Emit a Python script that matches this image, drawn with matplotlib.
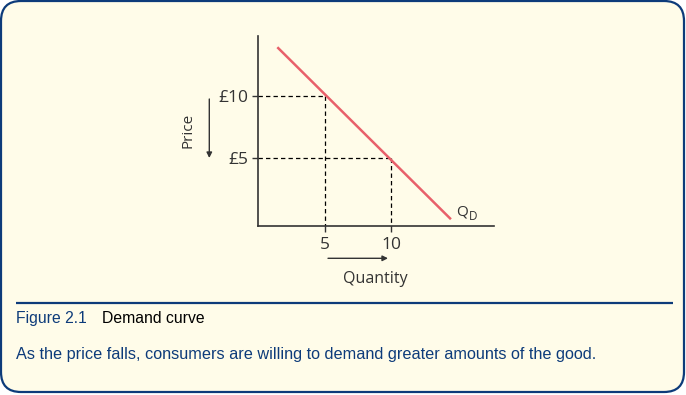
import matplotlib
matplotlib.use("Agg")
import matplotlib.pyplot as plt
from matplotlib.patches import FancyBboxPatch

# ---- data ----
demand_q = [1.45, 14.47]
demand_p = [13.87, 0.13]
price_ticks = [10, 5]
price_labels = ["£10", "£5"]
qty_ticks = [5, 10]
qty_labels = ["5", "10"]
points_q = [5, 10]
points_p = [10, 5]

W, H = 686, 395
DPI = 100
fig = plt.figure(figsize=(W / DPI, H / DPI), dpi=DPI, facecolor="white")

NAVY = "#0d3b7a"
CREAM = "#fffce9"
DARK = "#333333"
CHART_FONT = ["Open Sans", "DejaVu Sans"]
CAP_FONT = ["Liberation Sans", "DejaVu Sans"]

# background layer in pixel coords (top-left origin)
bg = fig.add_axes([0, 0, 1, 1])
bg.set_xlim(0, W)
bg.set_ylim(H, 0)
bg.axis("off")

box = FancyBboxPatch((21, 21), W - 43, H - 44,
                     boxstyle="round,pad=20,rounding_size=20",
                     facecolor=CREAM, edgecolor=NAVY, linewidth=1.6)
bg.add_patch(box)

# separator
bg.plot([16, 673], [302.5, 302.5], color=NAVY, lw=1.6, solid_capstyle="butt")

# caption
bg.text(16, 323, "Figure 2.1", color=NAVY, fontsize=11.3, family=CAP_FONT, va="baseline", ha="left")
bg.text(102, 323, "Demand curve", color="black", fontsize=11.3, family=CAP_FONT, va="baseline", ha="left")
bg.text(16, 359, "As the price falls, consumers are willing to demand greater amounts of the good.",
        color=NAVY, fontsize=11.7, family=CAP_FONT, va="baseline", ha="left")

# axis annotations (pixel coords)
bg.annotate("", xy=(209.3, 158), xytext=(209.3, 99),
            arrowprops=dict(arrowstyle="-|>", color=DARK, lw=1.0, mutation_scale=8, shrinkA=0, shrinkB=0))
bg.text(188, 130.5, "Price", rotation=90, color=DARK, fontsize=11, family=CHART_FONT, ha="center", va="center")
bg.annotate("", xy=(388, 258.3), xytext=(328, 258.3),
            arrowprops=dict(arrowstyle="-|>", color=DARK, lw=1.0, mutation_scale=8, shrinkA=0, shrinkB=0))
bg.text(375.5, 279, "Quantity", color=DARK, fontsize=11.5, family=CHART_FONT, ha="center", va="center")

# chart axes
left, right, top, bottom = 258, 494, 35.7, 226
ax = fig.add_axes([left / W, (H - bottom) / H, (right - left) / W, (bottom - top) / H])
ax.set_facecolor("none")
ax.set_xlim(0, 17.7)
ax.set_ylim(-0.41, 14.79)
for s in ["top", "right"]:
    ax.spines[s].set_visible(False)
for s in ["left", "bottom"]:
    ax.spines[s].set_color(DARK)
    ax.spines[s].set_linewidth(1.2)

ax.set_xticks(qty_ticks)
ax.set_xticklabels(qty_labels)
ax.set_yticks(price_ticks)
ax.set_yticklabels(price_labels)
ax.tick_params(axis="both", direction="out", length=4, width=1.0, color=DARK,
               labelcolor=DARK, labelsize=12.5)
ax.tick_params(axis="x", pad=4)
ax.tick_params(axis="y", pad=3)
for lab in ax.get_xticklabels() + ax.get_yticklabels():
    lab.set_family(CHART_FONT)

# dashed guides
ymin = ax.get_ylim()[0]
for q, p in zip(points_q, points_p):
    ax.plot([0, q], [p, p], color="black", lw=0.9, ls=(0, (3.5, 2.5)), clip_on=False)
    ax.plot([q, q], [p, ymin], color="black", lw=0.9, ls=(0, (3.5, 2.5)), clip_on=False)

# demand curve
ax.plot(demand_q, demand_p, color="#e8606a", lw=1.8, solid_capstyle="butt")

bg.text(462, 211.5, "Q", color=DARK, fontsize=11, family=CHART_FONT, ha="center", va="center")
bg.text(473, 217, "D", color=DARK, fontsize=8.5, family=CHART_FONT, ha="center", va="center")

fig.savefig("out.png", dpi=DPI, facecolor="white")
